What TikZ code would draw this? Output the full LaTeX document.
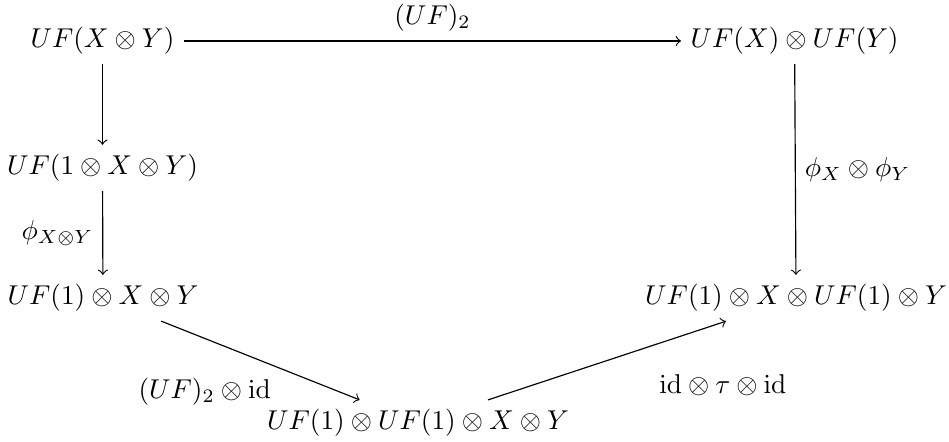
\documentclass[tikz,border=0pt]{standalone}
\usepackage{amsmath}
\usetikzlibrary{positioning}

\begin{document}
\begin{tikzpicture}[>=to, every node/.style={inner sep=3.3pt, scale=0.94}]
    \useasboundingbox (0,0) rectangle (11.51,-5.35);
    % objects
    \node (tl) at (1.243,-0.497) {$UF(X \otimes Y)$};
    \node (tr) at (9.637,-0.497) {$UF(X) \otimes UF(Y)$};
    \node (ml) at (1.243,-2.038) {$UF(1 \otimes X \otimes Y)$};
    \node (bl) at (1.249,-3.615) {$UF(1) \otimes X \otimes Y$};
    \node (br) at (9.655,-3.615) {$UF(1) \otimes X \otimes UF(1) \otimes Y$};
    \node (bot) at (5.070,-5.131) {$UF(1) \otimes UF(1) \otimes X \otimes Y$};
    % morphisms
    \draw[->] (tl) -- node[above] {$(UF)_2$} (tr);
    \draw[->] (tl) -- (ml);
    \draw[->] (ml) -- node[left] {$\phi_{X \otimes Y}$} (bl);
    \draw[->] (tr) -- node[right] {$\phi_X \otimes \phi_Y$} (br);
    \draw[->] (bl) -- node[pos=0.6, below left] {$(UF)_2 \otimes \mathrm{id}$} (bot);
    \draw[->] (bot) -- node[pos=0.68, below right, yshift=-7pt] {$\mathrm{id} \otimes \tau \otimes \mathrm{id}$} (br);
\end{tikzpicture}
\end{document}
